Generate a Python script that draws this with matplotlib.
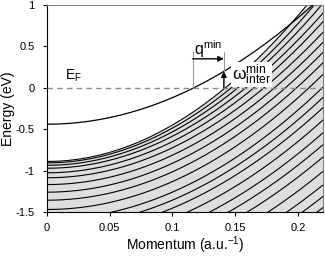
import numpy as np
import matplotlib
matplotlib.use('Agg')
import matplotlib.pyplot as plt

plt.rcParams['font.family'] = ['Liberation Sans', 'DejaVu Sans']
plt.rcParams['mathtext.default'] = 'regular'

# upper band: E = E0 + a*k^2
upper_e0 = -0.44
upper_a = 32.1

# lower band family: bottom energy at k=0 and curvature of each line
lower_e0 = [-0.89, -0.907, -0.936, -0.972, -1.027, -1.087, -1.169, -1.261, -1.358, -1.47,
            -1.59, -1.68, -1.77, -1.89, -2.01, -2.12, -2.24, -2.38, -2.51, -2.62, -2.72]
lower_b = [44.0, 42.0, 40.4, 38.7, 37.7, 36.3, 35.5, 34.9, 34.3, 33.7,
           33.0, 32.3, 31.6, 31.0, 30.3, 29.6, 29.0, 28.3, 27.6, 27.0, 26.3]

q_min_start = 0.116
q_min_end = 0.141
q_arrow_e = 0.35

x_ticks = [0, 0.05, 0.1, 0.15, 0.2]
x_tick_labels = ['0', '0.05', '0.1', '0.15', '0.2']
y_ticks = [-1.5, -1, -0.5, 0, 0.5, 1]
y_tick_labels = ['-1.5', '-1', '-0.5', '0', '0.5', '1']

k = np.linspace(0, 0.22, 400)

fig = plt.figure(figsize=(3.25, 2.56), dpi=100)
ax = fig.add_axes([0.1446, 0.172, 0.8492, 0.8085])

# shaded continuum
top_band = lower_e0[0] + lower_b[0] * k**2
ax.fill_between(k, top_band, -1.6, color='#dedede', lw=0, zorder=1)
for e0, b in zip(lower_e0, lower_b):
    ax.plot(k, e0 + b * k**2, color='black', lw=0.8, zorder=2)

ax.plot(k, upper_e0 + upper_a * k**2, color='black', lw=0.9, zorder=3)

ax.axhline(0, color='#8a8a8a', lw=1.0, ls=(0, (4, 3)), zorder=4)

# q_min guides and arrow
ax.plot([q_min_start, q_min_start], [0, 0.43], color='#9a9a9a', lw=0.8, zorder=4)
ax.plot([q_min_end, q_min_end], [0.2, 0.43], color='#9a9a9a', lw=0.8, zorder=4)
ax.annotate('', xy=(q_min_end, q_arrow_e), xytext=(q_min_start, q_arrow_e),
            arrowprops=dict(arrowstyle='-|>', color='black', lw=1.0,
                            mutation_scale=8, shrinkA=0, shrinkB=0), zorder=5)
omega_top = upper_e0 + upper_a * q_min_end**2
ax.annotate('', xy=(q_min_end, omega_top), xytext=(q_min_end, 0),
            arrowprops=dict(arrowstyle='-|>', color='black', lw=1.0,
                            mutation_scale=8, shrinkA=0, shrinkB=0), zorder=5)

ax.text(0.014, 0.1, r'E$_F$', fontsize=10, zorder=6)
ax.text(0.117, 0.4, r'q$^{min}$', fontsize=11.5, zorder=6)
ax.text(0.1475, 0.1, r'$\omega^{min}_{inter}$', fontsize=12.5, zorder=6,
        bbox=dict(facecolor='white', edgecolor='none', pad=0.5))

ax.set_xlim(0, 0.22)
ax.set_ylim(-1.5, 1)
ax.set_xticks(x_ticks)
ax.set_xticklabels(x_tick_labels, fontsize=8)
ax.set_yticks(y_ticks)
ax.set_yticklabels(y_tick_labels, fontsize=8)
ax.tick_params(axis='y', direction='out', length=3, width=0.8, pad=6)
ax.tick_params(axis='x', direction='out', length=3, width=0.8, pad=5)
ax.set_xlabel(r'Momentum (a.u.$^{-1}$)', fontsize=10, labelpad=1)
ax.set_ylabel('Energy (eV)', fontsize=10, labelpad=0)

for side in ['top', 'right']:
    ax.spines[side].set_color('#808080')
for side in ['left', 'bottom']:
    ax.spines[side].set_color('black')
for s in ax.spines.values():
    s.set_linewidth(0.8)

fig.savefig('out.png', dpi=100)
